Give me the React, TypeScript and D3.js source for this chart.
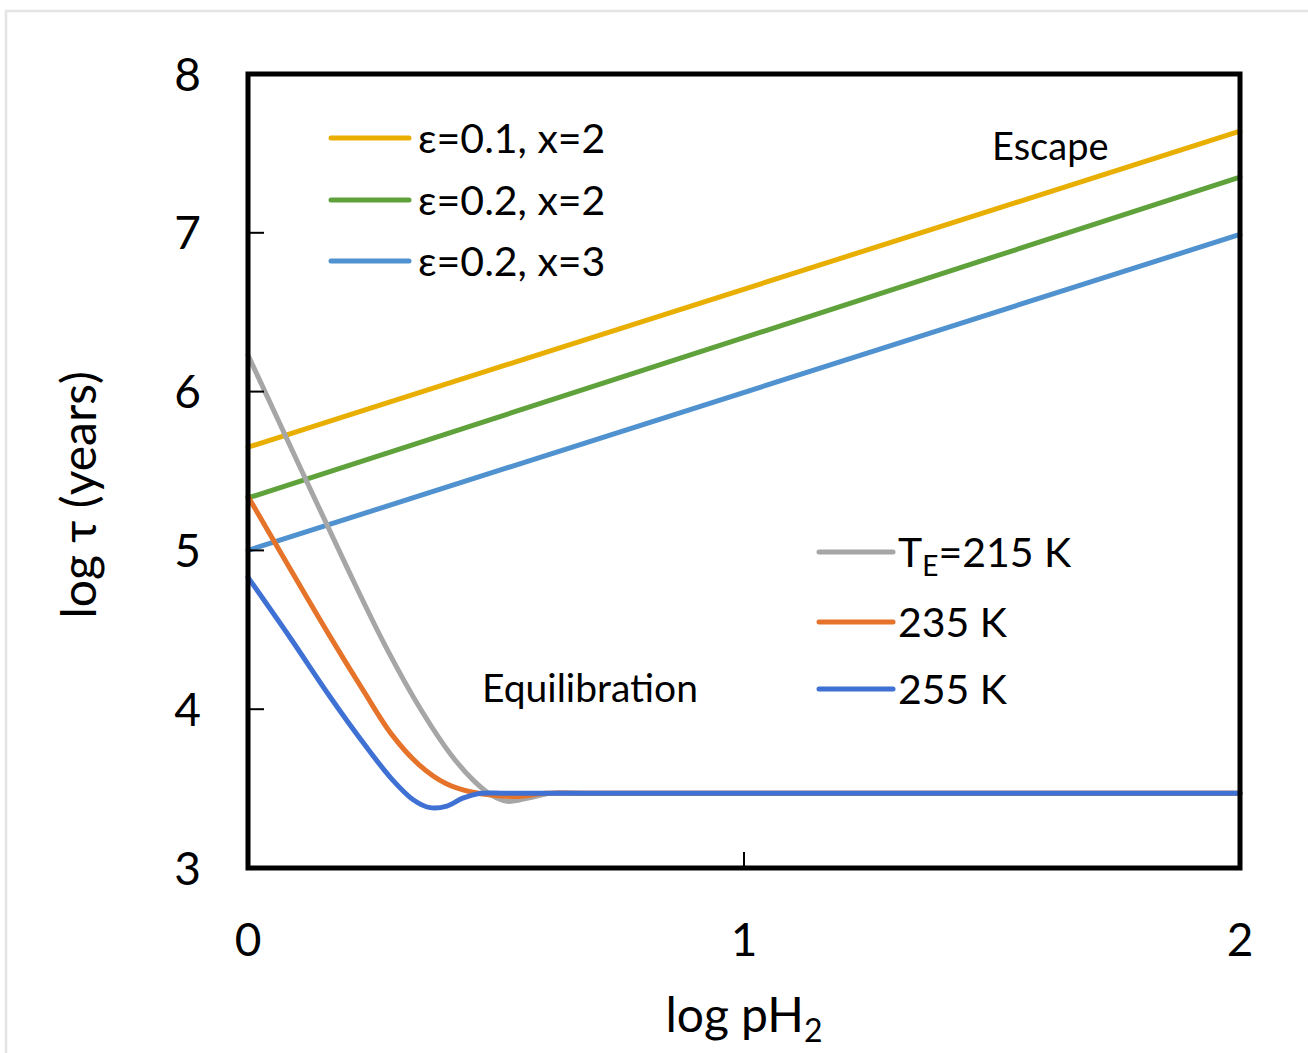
import React from 'react';
import * as d3 from 'd3';

const W = 1308, H = 1053;
const margin = { top: 74, right: 68, bottom: 185, left: 248 };

// axis ticks
const xTicks = [0, 1, 2];
const yTicks = [3, 4, 5, 6, 7, 8];

// escape lines (straight, read at both ends)
const escapeX = [0, 2];
const escEps01x2 = [5.65, 7.64];
const escEps02x2 = [5.33, 7.35];
const escEps02x3 = [5.0, 6.99];

// equilibration curves
const eq215x = [0, 0.2, 0.28, 0.35, 0.41, 0.455, 0.49, 0.522, 0.565, 0.61, 0.7, 2];
const eq215y = [6.23, 4.89, 4.38, 3.99, 3.71, 3.55, 3.46, 3.42, 3.44, 3.47, 3.47, 3.47];
const eq235x = [0, 0.165, 0.232, 0.29, 0.345, 0.4, 0.448, 0.49, 0.542, 0.6, 0.7, 2];
const eq235y = [5.34, 4.46, 4.12, 3.84, 3.65, 3.53, 3.48, 3.46, 3.45, 3.47, 3.47, 3.47];
const eq255x = [0, 0.085, 0.165, 0.232, 0.29, 0.333, 0.367, 0.401, 0.433, 0.468, 0.52, 0.7, 2];
const eq255y = [4.83, 4.45, 4.08, 3.79, 3.56, 3.43, 3.38, 3.39, 3.44, 3.47, 3.47, 3.47, 3.47];

const COLORS = {
  e01x2: '#E8AE00',
  e02x2: '#5FA23C',
  e02x3: '#4F92CF',
  t215: '#A6A6A6',
  t235: '#E5732A',
  t255: '#3F70D4'
};

const FONT = 'Lato, "Open Sans", sans-serif';

export default function App() {
  const x = d3.scaleLinear().domain([0, 2]).range([margin.left, W - margin.right]);
  const y = d3.scaleLinear().domain([3, 8]).range([H - margin.bottom, margin.top]);

  const straight = d3.line<number>()
    .x((d, i) => x(escapeX[i]))
    .y(d => y(d));

  const curve = (xs: number[], ys: number[]) =>
    d3.line<number>()
      .x((d, i) => x(xs[i]))
      .y(d => y(d))
      .curve(d3.curveCatmullRom.alpha(0.5))(ys) || '';

  const escLines = [
    { vals: escEps01x2, color: COLORS.e01x2 },
    { vals: escEps02x2, color: COLORS.e02x2 },
    { vals: escEps02x3, color: COLORS.e02x3 }
  ];
  const eqLines = [
    { xs: eq215x, ys: eq215y, color: COLORS.t215 },
    { xs: eq235x, ys: eq235y, color: COLORS.t235 },
    { xs: eq255x, ys: eq255y, color: COLORS.t255 }
  ];

  const legend1 = [
    { label: 'ε=0.1, x=2', color: COLORS.e01x2, y: 138 },
    { label: 'ε=0.2, x=2', color: COLORS.e02x2, y: 200 },
    { label: 'ε=0.2, x=3', color: COLORS.e02x3, y: 261 }
  ];
  const legend2 = [
    { label: '215 K', color: COLORS.t215, y: 552, te: true },
    { label: '235 K', color: COLORS.t235, y: 622, te: false },
    { label: '255 K', color: COLORS.t255, y: 689, te: false }
  ];

  const x0 = x(0), x1 = x(2), yTop = y(8), yBot = y(3);

  return (
    <svg width={W} height={H} style={{ position: 'absolute', left: 0, top: 0, background: '#fff' }}
      fontFamily={FONT}>
      {/* outer light frame */}
      <rect x={6} y={11} width={W + 10} height={H + 10} fill="none" stroke="#e4e4e4" strokeWidth={2.5} />

      {/* lines */}
      <g fill="none" strokeWidth={5} strokeLinecap="round" strokeLinejoin="round">
        {escLines.map((l, i) => (
          <path key={'e' + i} d={straight(l.vals) || ''} stroke={l.color} />
        ))}
        {eqLines.map((l, i) => (
          <path key={'q' + i} d={curve(l.xs, l.ys)} stroke={l.color} />
        ))}
      </g>

      {/* ticks inside the frame */}
      <g stroke="#000" strokeWidth={2}>
        {yTicks.filter(t => t > 3 && t < 8).map(t => (
          <line key={t} x1={x0} x2={x0 + 16} y1={y(t)} y2={y(t)} />
        ))}
        {xTicks.filter(t => t > 0 && t < 2).map(t => (
          <line key={t} x1={x(t)} x2={x(t)} y1={yBot} y2={yBot - 16} />
        ))}
      </g>

      {/* frame */}
      <rect x={x0} y={yTop} width={x1 - x0} height={yBot - yTop} fill="none" stroke="#000" strokeWidth={5} />

      {/* tick labels */}
      <g fontSize={46} fill="#000">
        {yTicks.map(t => (
          <text key={t} x={x0 - 47} y={y(t)} dy="0.36em" textAnchor="end">{t}</text>
        ))}
        {xTicks.map(t => (
          <text key={t} x={x(t)} y={yBot + 88} textAnchor="middle">{t}</text>
        ))}
      </g>

      {/* axis titles */}
      <text x={x(1)} y={1032} textAnchor="middle" fontSize={48}>
        log pH<tspan fontSize={32} dy={10}>2</tspan>
      </text>
      <text transform={`translate(96, ${y(5.35)}) rotate(-90)`} textAnchor="middle" fontSize={48}>
        log τ (years)
      </text>

      {/* region labels */}
      <text x={992} y={160} fontSize={38}>Escape</text>
      <text x={482} y={702} fontSize={39}>Equilibration</text>

      {/* legend: escape */}
      {legend1.map(l => (
        <g key={l.label}>
          <line x1={331} x2={409} y1={l.y} y2={l.y} stroke={l.color} strokeWidth={5} strokeLinecap="round" />
          <text x={418} y={l.y} dy="0.36em" fontSize={41}>{l.label}</text>
        </g>
      ))}

      {/* legend: temperatures */}
      {legend2.map(l => (
        <g key={l.label}>
          <line x1={819} x2={893} y1={l.y} y2={l.y} stroke={l.color} strokeWidth={5} strokeLinecap="round" />
          <text x={898} y={l.y} dy="0.36em" fontSize={41}>
            {l.te ? (
              <>
                T<tspan fontSize={28} dy={9}>E</tspan><tspan dy={-9}>={l.label}</tspan>
              </>
            ) : l.label}
          </text>
        </g>
      ))}
    </svg>
  );
}
